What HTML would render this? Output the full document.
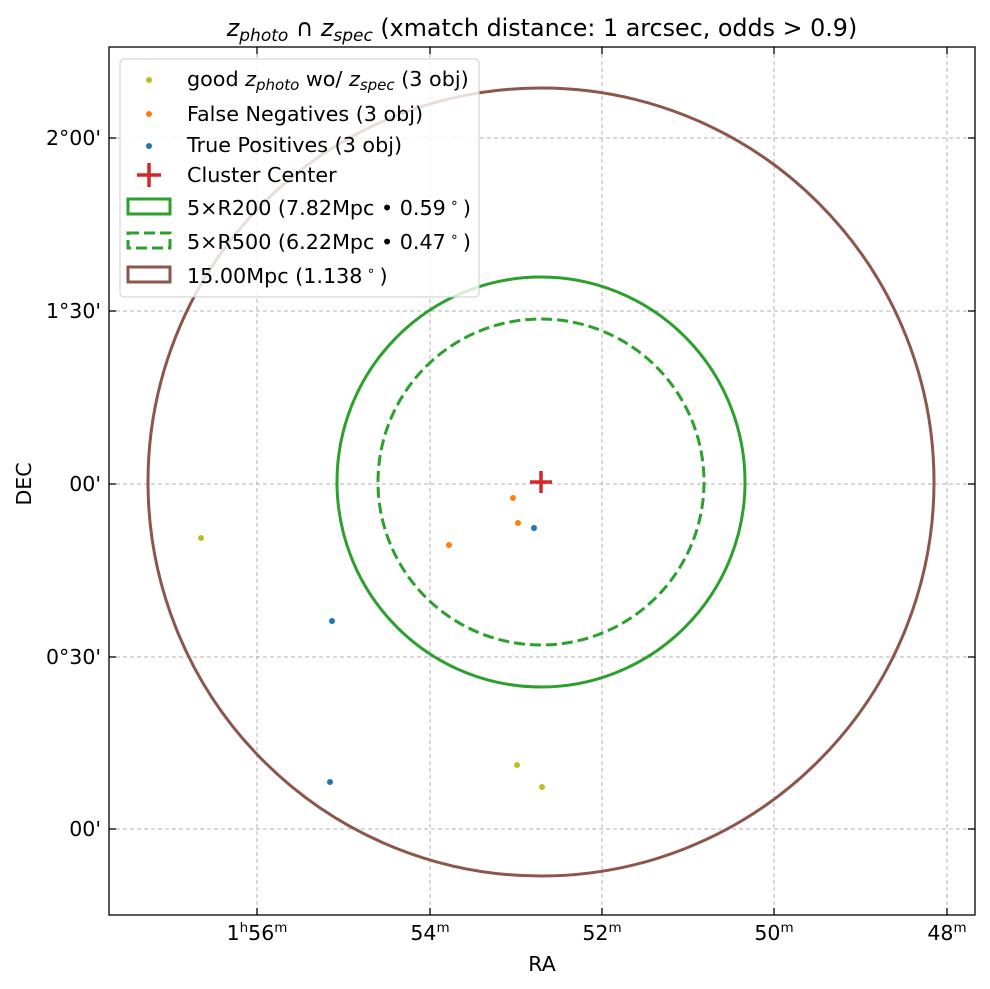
<!DOCTYPE html>
<html><head><style>body{margin:0;background:#fff}svg{display:block}text{font-family:"DejaVu Sans","Liberation Sans",sans-serif;fill:#000}</style></head>
<body>
<svg width="990" height="989" viewBox="0 0 990 989" xmlns="http://www.w3.org/2000/svg">
<rect width="990" height="989" fill="#fff"/>
<g stroke="#b0b0b0" stroke-width="1" stroke-dasharray="4,3">
<line x1="257" y1="47" x2="257" y2="915"/><line x1="430" y1="47" x2="430" y2="915"/><line x1="602" y1="47" x2="602" y2="915"/><line x1="774" y1="47" x2="774" y2="915"/><line x1="947" y1="47" x2="947" y2="915"/>
<line x1="109" y1="138" x2="975" y2="138"/><line x1="109" y1="311" x2="975" y2="311"/><line x1="109" y1="484" x2="975" y2="484"/><line x1="109" y1="657" x2="975" y2="657"/><line x1="109" y1="829" x2="975" y2="829"/>
</g>
<ellipse cx="541" cy="482" rx="393" ry="394" fill="none" stroke="#8c564b" stroke-width="3"/>
<ellipse cx="541" cy="482" rx="204" ry="205" fill="none" stroke="#2ca02c" stroke-width="3"/>
<ellipse cx="541" cy="482" rx="163" ry="163" fill="none" stroke="#2ca02c" stroke-width="3" stroke-dasharray="11,5"/>
<g fill="#bcbd22"><circle cx="201" cy="538" r="3"/><circle cx="517" cy="765" r="3"/><circle cx="542" cy="787" r="3"/></g>
<g fill="#ff7f0e"><circle cx="513" cy="498" r="3"/><circle cx="518" cy="523" r="3"/><circle cx="449" cy="545" r="3"/></g>
<g fill="#1f77b4"><circle cx="534" cy="528" r="3"/><circle cx="332" cy="621" r="3"/><circle cx="330" cy="782" r="3"/></g>
<g stroke="#d62728" stroke-width="3.5"><line x1="530" y1="482" x2="552" y2="482"/><line x1="541" y1="471" x2="541" y2="493"/></g>
<rect x="109" y="47" width="866" height="868" fill="none" stroke="#000" stroke-width="1.3"/>
<g stroke="#000" stroke-width="1.3">
<line x1="257" y1="915" x2="257" y2="908"/><line x1="430" y1="915" x2="430" y2="908"/><line x1="602" y1="915" x2="602" y2="908"/><line x1="774" y1="915" x2="774" y2="908"/><line x1="947" y1="915" x2="947" y2="908"/>
<line x1="257" y1="47" x2="257" y2="54"/><line x1="430" y1="47" x2="430" y2="54"/><line x1="602" y1="47" x2="602" y2="54"/><line x1="774" y1="47" x2="774" y2="54"/><line x1="947" y1="47" x2="947" y2="54"/>
<line x1="109" y1="138" x2="116" y2="138"/><line x1="109" y1="311" x2="116" y2="311"/><line x1="109" y1="484" x2="116" y2="484"/><line x1="109" y1="657" x2="116" y2="657"/><line x1="109" y1="829" x2="116" y2="829"/>
<line x1="975" y1="138" x2="968" y2="138"/><line x1="975" y1="311" x2="968" y2="311"/><line x1="975" y1="484" x2="968" y2="484"/><line x1="975" y1="657" x2="968" y2="657"/><line x1="975" y1="829" x2="968" y2="829"/>
</g>
<g font-size="20.5" text-anchor="middle">
<text x="257" y="940">1<tspan font-size="13.5" dy="-8">h</tspan><tspan dy="8">56</tspan><tspan font-size="13.5" dy="-8">m</tspan></text>
<text x="430" y="940">54<tspan font-size="13.5" dy="-8">m</tspan></text>
<text x="602" y="940">52<tspan font-size="13.5" dy="-8">m</tspan></text>
<text x="774" y="940">50<tspan font-size="13.5" dy="-8">m</tspan></text>
<text x="947" y="940">48<tspan font-size="13.5" dy="-8">m</tspan></text>
<text x="542" y="971">RA</text>
<text transform="translate(31,484) rotate(-90)">DEC</text>
</g>
<g font-size="20.5" text-anchor="end">
<text x="101" y="145">2°00'</text><text x="101" y="318">1°30'</text><text x="101" y="491">00'</text><text x="101" y="664">0°30'</text><text x="101" y="836">00'</text>
</g>
<text x="542" y="36" font-size="23.8" text-anchor="middle"><tspan font-style="italic">z</tspan><tspan font-style="italic" font-size="17" dy="5">photo</tspan><tspan dy="-5"> ∩ </tspan><tspan font-style="italic">z</tspan><tspan font-style="italic" font-size="17" dy="5">spec</tspan><tspan dy="-5"> (xmatch distance: 1 arcsec, odds &gt; 0.9)</tspan></text>
<rect x="120" y="59" width="359" height="238" rx="4" fill="#fff" fill-opacity="0.8" stroke="#ccc" stroke-width="1"/>
<circle cx="149" cy="80" r="3" fill="#bcbd22"/>
<circle cx="149" cy="114" r="3" fill="#ff7f0e"/>
<circle cx="149" cy="146" r="3" fill="#1f77b4"/>
<g stroke="#d62728" stroke-width="3.5"><line x1="137" y1="175" x2="161" y2="175"/><line x1="149" y1="163" x2="149" y2="187"/></g>
<rect x="128" y="199" width="42" height="15" fill="none" stroke="#2ca02c" stroke-width="3"/>
<rect x="128" y="233" width="42" height="15" fill="none" stroke="#2ca02c" stroke-width="3" stroke-dasharray="11,5"/>
<rect x="128" y="267" width="42" height="15" fill="none" stroke="#8c564b" stroke-width="3"/>
<g font-size="20.7">
<text x="187" y="86">good <tspan font-style="italic">z</tspan><tspan font-style="italic" font-size="15" dy="4">photo</tspan><tspan dy="-4"> wo/ </tspan><tspan font-style="italic">z</tspan><tspan font-style="italic" font-size="15" dy="4">spec</tspan><tspan dy="-4"> (3 obj)</tspan></text>
<text x="187" y="121">False Negatives (3 obj)</text>
<text x="187" y="152">True Positives (3 obj)</text>
<text x="187" y="182">Cluster Center</text>
<text x="187" y="215">5×R200 (7.82Mpc • 0.59<tspan font-size="13.5" dy="-8"> ∘ </tspan><tspan dy="8">)</tspan></text>
<text x="187" y="249">5×R500 (6.22Mpc • 0.47<tspan font-size="13.5" dy="-8"> ∘ </tspan><tspan dy="8">)</tspan></text>
<text x="187" y="283">15.00Mpc (1.138<tspan font-size="13.5" dy="-8"> ∘ </tspan><tspan dy="8">)</tspan></text>
</g>
</svg>
</body></html>
